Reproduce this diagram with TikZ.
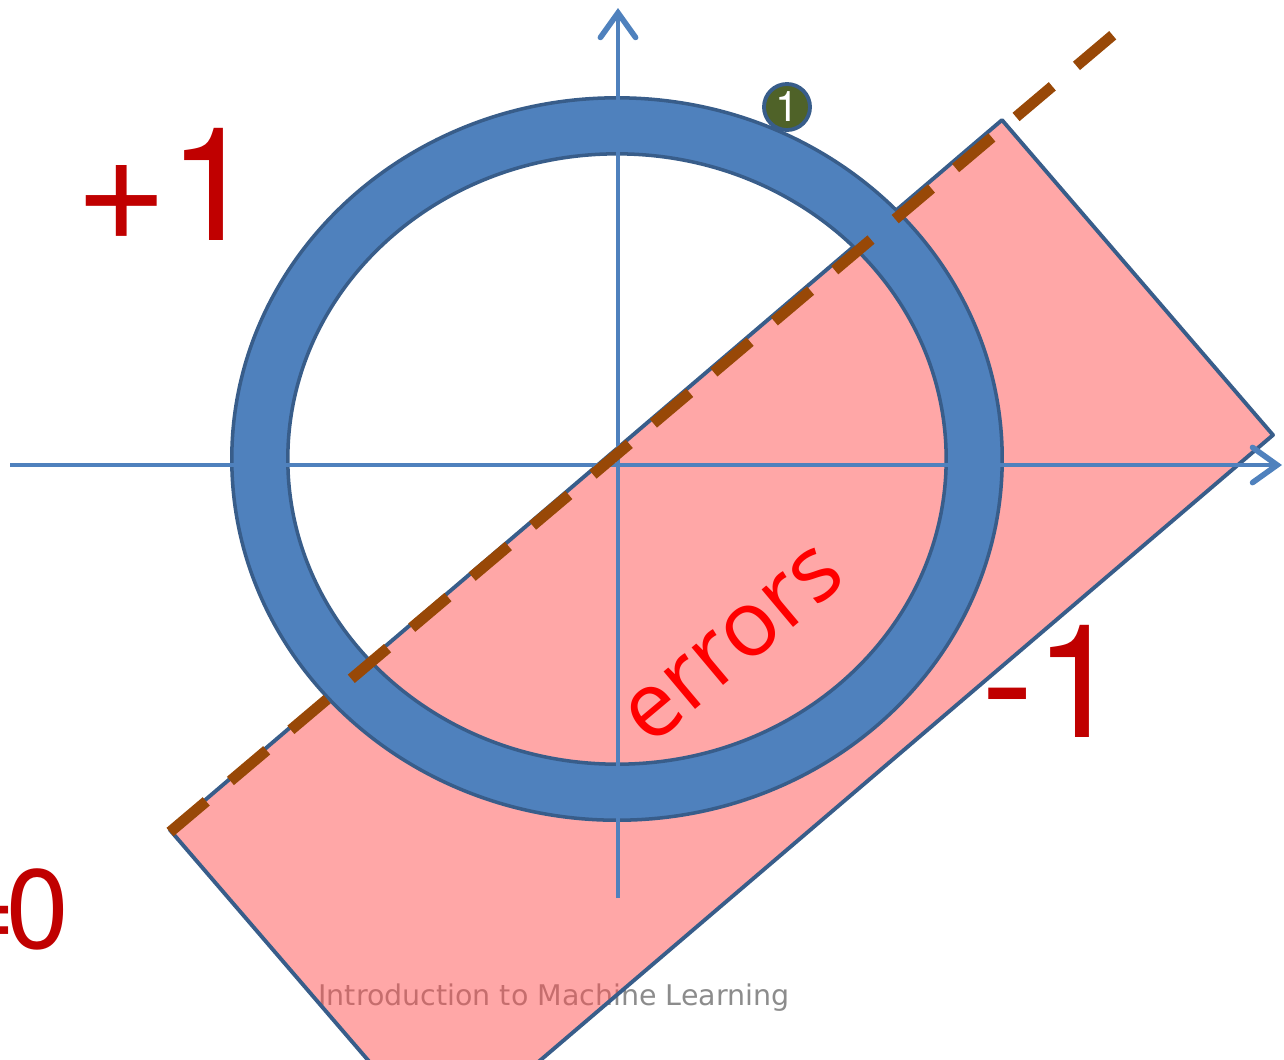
\documentclass[tikz,border=0pt]{standalone}
\usepackage{fontspec}
\setmainfont{TeX Gyre Heros}
\newfontfamily\signfont{TeX Gyre Heros}
\newfontfamily\errfont{Open Sans}
\newfontfamily\footfont{DejaVu Sans}
\usetikzlibrary{arrows.meta}
\definecolor{ringblue}{HTML}{4F81BD}
\definecolor{edgeblue}{HTML}{385D8A}
\definecolor{boundbrown}{HTML}{984807}
\definecolor{signred}{HTML}{C00000}
\definecolor{badgegreen}{HTML}{4F6228}
\definecolor{footgray}{HTML}{8C8C8C}
\definecolor{halfred}{RGB}{255,80,80}
\begin{document}
\begin{tikzpicture}[x=0.01cm, y=-0.01cm,
    axis/.style={ringblue, line width=1.4pt, -{Straight Barb[length=7pt, width=10pt, line width=1.6pt, line cap=round]}},
    signlabel/.style={text=signred, font=\signfont\fontsize{45}{45}\selectfont}]
  \useasboundingbox (0,0) rectangle (1284,1059);
  \clip (0,0) rectangle (1284,1059);
  % footer sits under the shaded half-plane
  \node[text=footgray, font=\footfont\fontsize{8.1}{9}\selectfont, anchor=base] (foot) at (554,1005) {Introduction to Machine Learning};
  % shaded region below the boundary
  \coordinate (pa) at (170,830);
  \coordinate (pb) at (1002,120);
  \coordinate (pc) at (1273,435);
  \coordinate (pd) at (441,1145);
  \filldraw[fill=halfred, fill opacity=0.5, draw=edgeblue, line width=1.1pt, line join=round] (pa) -- (pb) -- (pc) -- (pd) -- cycle;
  % ring of points
  \coordinate (o) at (617,459);
  \filldraw[fill=ringblue, draw=edgeblue, line width=1pt, even odd rule] (o) ellipse [x radius=3.85cm, y radius=3.61cm] (o) ellipse [x radius=3.29cm, y radius=3.05cm];
  % axes
  \coordinate (xl) at (10,465);
  \coordinate (xr) at (1282,465);
  \coordinate (yb) at (618,898);
  \coordinate (yt) at (618,8);
  \draw[axis] (xl) -- (xr);
  \draw[axis] (yb) -- (yt);
  % boundary
  \coordinate (dl) at (170,832);
  \coordinate (du) at (1113,35);
  \draw[boundbrown, line width=3.1pt, dash pattern=on 13.5pt off 9pt] (dl) -- (du);
  \node[circle, fill=badgegreen, draw=edgeblue, line width=1.1pt, minimum size=0.46cm, inner sep=0pt, text=white, font=\signfont\fontsize{12}{12}\selectfont] (badge) at (787,107) {1};
  \node[signlabel, anchor=base] (plus) at (166,240) {+1};
  \node[signlabel, anchor=base] (minus) at (1052,737) {-1};
  \node[signlabel, anchor=base east, font=\signfont\fontsize{32}{32}\selectfont] (zero) at (81,948) {=\kern-3pt0};
  \node[text=red, rotate=40, font=\errfont\fontsize{26}{26}\selectfont] (err) at (734,645) {errors};
\end{tikzpicture}
\end{document}
